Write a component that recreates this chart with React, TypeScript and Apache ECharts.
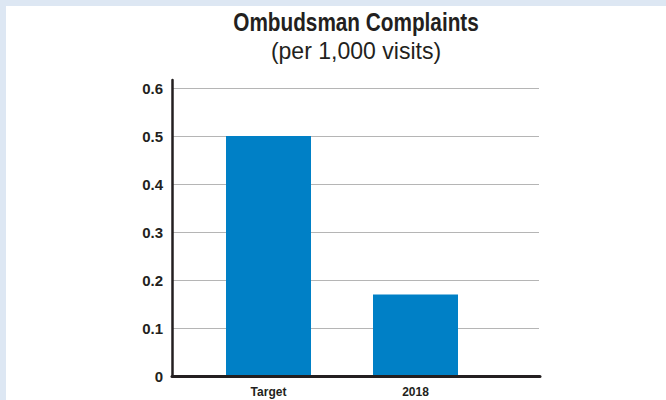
import React, { useEffect, useRef } from "react";
import * as echarts from "echarts";

const categories = ["Target", "2018"];
const values = [0.5, 0.17];
const yMin = 0;
const yMax = 0.6;
const yInterval = 0.1;
const titleText = "Ombudsman Complaints";
const subtitleText = "(per 1,000 visits)";

const BAR_COLOR = "#0080c6";
const TEXT_COLOR = "#231f20";
const GRID_COLOR = "#b5b5b5";
const AXIS_COLOR = "#231f20";

export default function App() {
  const ref = useRef<HTMLDivElement | null>(null);

  useEffect(() => {
    if (!ref.current) return;
    const chart = echarts.init(ref.current, undefined, { renderer: "svg" });
    const option: any = {
      animation: false,
      backgroundColor: "#ffffff",
      graphic: [
        {
          type: "text",
          x: 350,
          y: 4,
          scaleX: 0.83,
          style: {
            text: titleText,
            fontFamily: "'Liberation Sans', Arial, sans-serif",
            fontWeight: "bold",
            fontSize: 25,
            fill: TEXT_COLOR,
            textAlign: "center",
            textVerticalAlign: "top",
          },
        },
        {
          type: "text",
          x: 350,
          y: 33,
          scaleX: 0.96,
          style: {
            text: subtitleText,
            fontFamily: "'Liberation Sans', Arial, sans-serif",
            fontWeight: "normal",
            fontSize: 24,
            fill: TEXT_COLOR,
            textAlign: "center",
            textVerticalAlign: "top",
          },
        },
      ],
      grid: [
        { left: 166, top: 74, width: 368, height: 296 },
        { left: 166, top: 82, width: 367, height: 288 },
        { left: 189, top: 82, width: 294, height: 288 },
      ],
      xAxis: [
        {
          gridIndex: 0,
          type: "category",
          data: [""],
          z: 10,
          axisLine: { show: true, lineStyle: { color: AXIS_COLOR, width: 3 } },
          axisTick: { show: false },
          axisLabel: { show: false },
          splitLine: { show: false },
        },
        {
          gridIndex: 1,
          type: "category",
          data: [""],
          show: false,
        },
        {
          gridIndex: 2,
          type: "category",
          data: categories,
          axisLine: { show: false },
          axisTick: { show: false },
          axisLabel: {
            show: true,
            margin: 10,
            fontFamily: "'Liberation Sans', Arial, sans-serif",
            fontWeight: "bold",
            fontSize: 12,
            color: TEXT_COLOR,
          },
          splitLine: { show: false },
        },
      ],
      yAxis: [
        {
          gridIndex: 0,
          type: "value",
          min: 0,
          max: 1,
          z: 10,
          axisLine: { show: true, lineStyle: { color: AXIS_COLOR, width: 2.5 } },
          axisTick: { show: false },
          axisLabel: { show: false },
          splitLine: { show: false },
        },
        {
          gridIndex: 1,
          type: "value",
          min: yMin,
          max: yMax,
          interval: yInterval,
          axisLine: { show: false },
          axisTick: { show: false },
          axisLabel: {
            show: true,
            margin: 9,
            fontFamily: "'Liberation Sans', Arial, sans-serif",
            fontWeight: "bold",
            fontSize: 15,
            color: TEXT_COLOR,
          },
          splitLine: { show: true, lineStyle: { color: GRID_COLOR, width: 1 } },
        },
        {
          gridIndex: 2,
          type: "value",
          min: yMin,
          max: yMax,
          show: false,
          splitLine: { show: false },
        },
      ],
      series: [
        {
          type: "bar",
          xAxisIndex: 2,
          yAxisIndex: 2,
          data: values,
          barWidth: 85,
          itemStyle: { color: BAR_COLOR },
        },
      ],
    };
    chart.setOption(option);
    return () => chart.dispose();
  }, []);

  return (
    <div
      style={{
        position: "fixed",
        left: 0,
        top: 0,
        width: 666,
        height: 400,
        background: "#dde7f3",
        overflow: "hidden",
      }}
    >
      <div
        ref={ref}
        style={{
          position: "absolute",
          left: 6,
          top: 6,
          width: 660,
          height: 394,
          background: "#ffffff",
        }}
      />
    </div>
  );
}
